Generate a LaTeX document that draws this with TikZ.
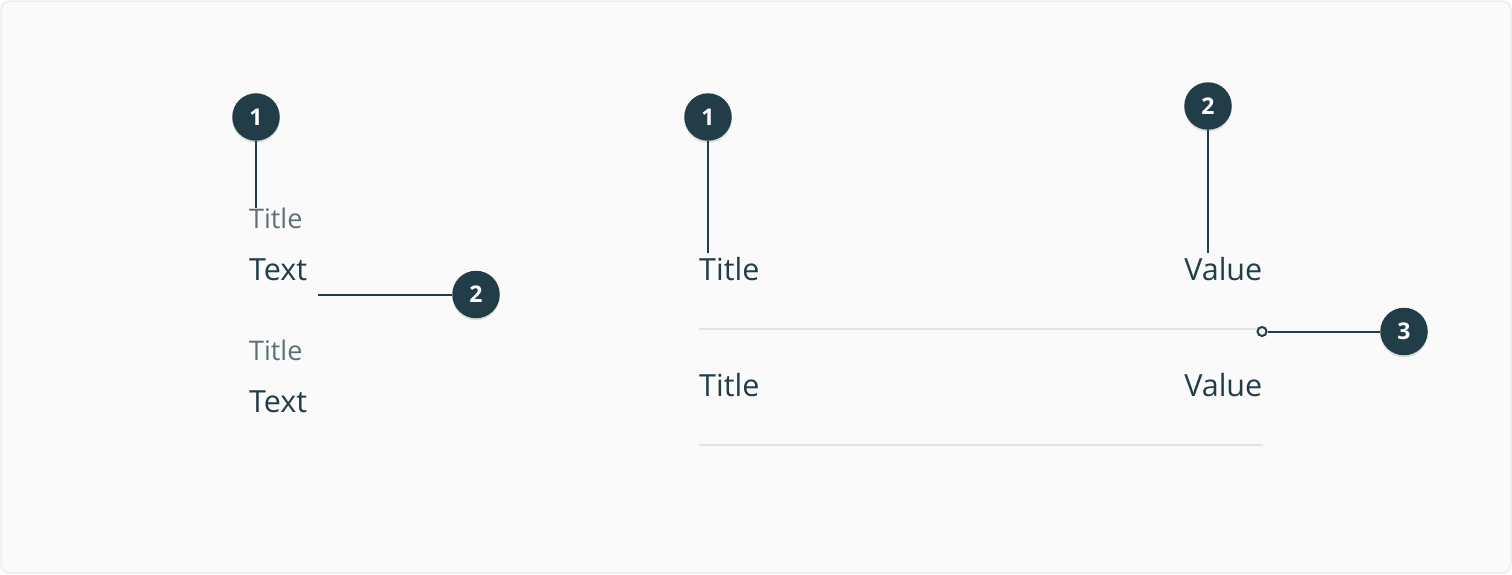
\documentclass[tikz,border=0pt]{standalone}
\usepackage{fontspec}
\setmainfont{Open Sans}
\usetikzlibrary{shadows}
\definecolor{ink}{HTML}{213E48}
\definecolor{muted}{HTML}{5E7177}
\definecolor{sep}{HTML}{E1E3E5}
\definecolor{bg}{HTML}{FAFAFA}
\definecolor{frame}{HTML}{EDEDED}
\tikzset{
  badge/.style={circle, fill=ink, minimum size=47.5pt, inner sep=0pt, text=white,
    font=\fontsize{23}{23}\selectfont\bfseries,
    drop shadow={shadow xshift=0pt, shadow yshift=-2pt, opacity=0.12, fill=black}},
  lead/.style={draw=ink, line width=2pt},
  bigtxt/.style={anchor=base west, inner sep=0pt, text=ink, font=\fontsize{30.5}{30.5}\selectfont},
  smalltxt/.style={anchor=base west, inner sep=0pt, text=muted, font=\fontsize{27}{27}\selectfont},
  seprule/.style={draw=sep, line width=2pt},
}
\begin{document}
\begin{tikzpicture}[x=1pt,y=-1pt]
\useasboundingbox (0,0) rectangle (1512,574);
\draw[fill=bg, draw=frame, line width=1.5pt, rounded corners=9pt] (1,1) rectangle (1511,573);

% left column
\node[smalltxt] (lt1) at (249,228) {Title};
\node[bigtxt] (ltx1) at (249,280.5) {Text};
\node[smalltxt] (lt2) at (249,360) {Title};
\node[bigtxt] (ltx2) at (249,412.5) {Text};

\node[badge] (lb1) at (256,117) {1};
\node[badge] (lb2) at (476,294.5) {2};
\coordinate (lp1) at (256,208);
\coordinate (lp2) at (318,294.5);
\draw[lead] (lb1.south) -- (lp1);
\draw[lead] (lp2) -- (lb2.west);

% right column
\node[bigtxt] (rt1) at (699,280.5) {Title};
\node[bigtxt, anchor=base east] (rv1) at (1262.5,280.5) {Value};
\node[bigtxt] (rt2) at (699,396.5) {Title};
\node[bigtxt, anchor=base east] (rv2) at (1262.5,396.5) {Value};

\coordinate (s1a) at (699,329);
\coordinate (s1b) at (1262,329);
\coordinate (s2a) at (699,444.5);
\coordinate (s2b) at (1263,444.5);
\draw[seprule] (s1a) -- (s1b);
\draw[seprule] (s2a) -- (s2b);

\node[badge] (rb1) at (708,117) {1};
\node[badge] (rb2) at (1208,106) {2};
\node[badge] (rb3) at (1404,331.5) {3};
\coordinate (rp1) at (708,253);
\coordinate (rp2) at (1208,253);
\node[circle, draw=ink, fill=bg, line width=2pt, minimum size=9pt, inner sep=0pt] (dot) at (1262,331.5) {};
\draw[lead] (rb1.south) -- (rp1);
\draw[lead] (rb2.south) -- (rp2);
\draw[lead] (dot.east) -- (rb3.west);
\end{tikzpicture}
\end{document}
